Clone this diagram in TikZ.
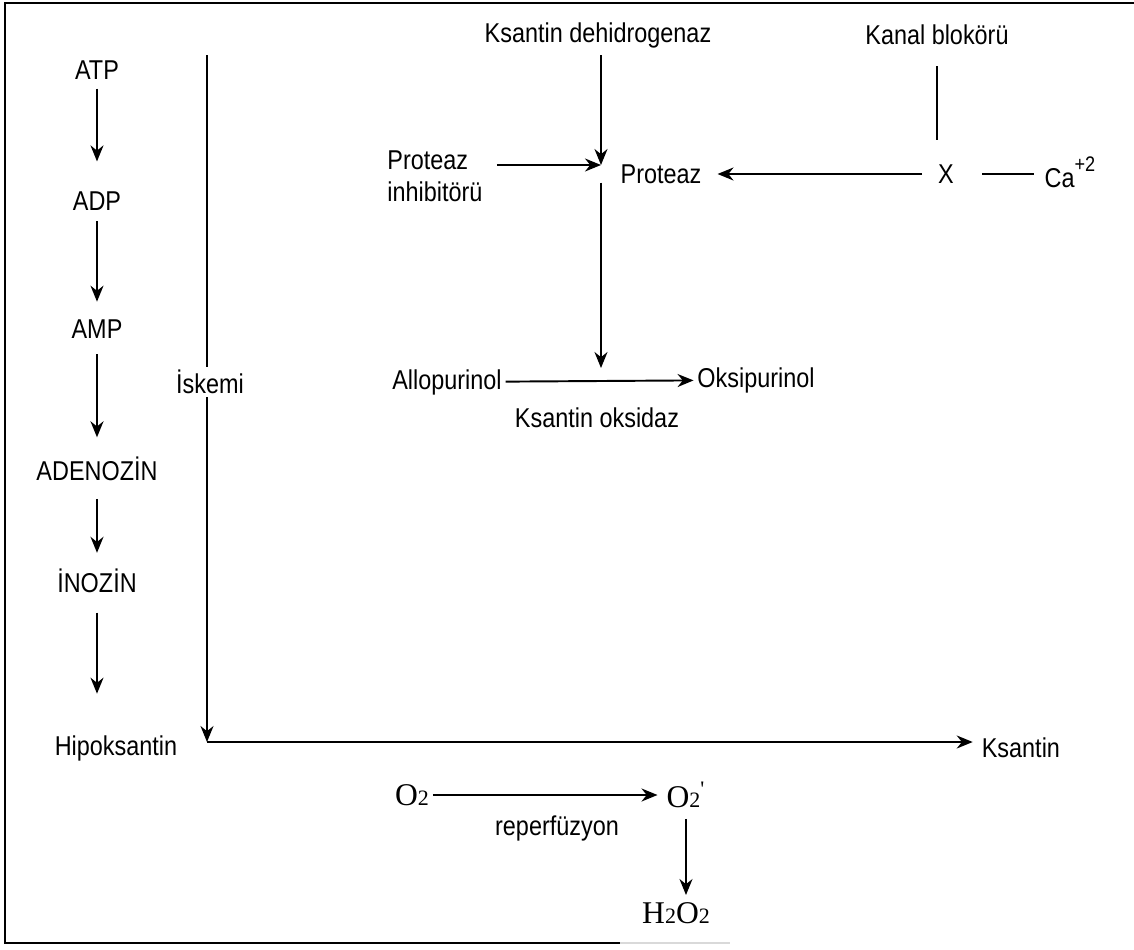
\documentclass[tikz,border=0pt]{standalone}
\usepackage{fontspec}
\setmainfont[FakeStretch=0.86]{Liberation Sans}
\newfontfamily\timesf{Liberation Serif}
\usetikzlibrary{arrows.meta, positioning}
\tikzstyle{txt} = [inner sep=2pt, font=\fontsize{15.5}{18}\selectfont]
\tikzstyle{chem} = [inner sep=2pt, font=\timesf\fontsize{18}{20}\selectfont]
\tikzstyle{flow} = [-{Stealth[length=3.2mm, width=2.6mm]}, line width=1.1pt]
\tikzstyle{plain} = [line width=1.1pt]
\newcommand{\chemsub}[1]{{\fontsize{12.5}{12.5}\selectfont #1}}
\newcommand{\ionsup}[1]{\raisebox{1.1ex}{\fontsize{12}{12}\selectfont #1}}

\begin{document}
\begin{tikzpicture}[x=0.02cm, y=-0.02cm, node distance=0cm]
\useasboundingbox (0,0) rectangle (1134,950);
% frame
\draw[plain] (1134,3) -- (5,3) -- (5,943) -- (620,943);
\draw[plain, black!15] (620,943) -- (730,943);

% nucleotide chain
\node (atp) [txt] at (97,70) {ATP};
\node (adp) [txt, below of=atp, yshift=-2.62cm] {ADP};
\node (amp) [txt, below of=adp, yshift=-2.56cm] {AMP};
\node (adenozin) [txt, below of=amp, yshift=-2.8cm] {ADENOZİN};
\node (inozin) [txt, below of=adenozin, yshift=-2.24cm] {İNOZİN};
\node (hipo) [txt, below of=inozin, xshift=0.38cm, yshift=-3.36cm] {Hipoksantin};
\draw[flow, shorten <=3pt, shorten >=15pt] (atp.south) -- (adp.north);
\draw[flow, shorten <=4pt, shorten >=8pt] (adp.south) -- (amp.north);
\draw[flow, shorten <=7pt, shorten >=9pt] (amp.south) -- (adenozin.north);
\draw[flow, shorten <=8pt, shorten >=7pt] (adenozin.south) -- (inozin.north);
\draw[flow, shorten <=9pt, shorten >=22pt] (inozin.south) -- (inozin.south |- hipo.north);

% iskemi
\coordinate (isktop) at (207,55);
\coordinate (iskbot) at (207,742);
\node (ksantin) [txt, anchor=west] at (978,748) {Ksantin};
\draw[flow] (isktop) -- (iskbot);
\node (iskemi) [txt, fill=white] at (210,382) {İskemi};
\draw[flow, shorten >=3pt] (iskbot) -- (iskbot -| ksantin.west);

% protease part
\node (kdh) [txt] at (598,35) {Ksantin dehidrogenaz};
\node (kanal) [txt] at (937,35) {Kanal blokörü};
\node (protinh) [txt, align=left] at (435,176) {Proteaz\\inhibitörü};
\node (prot) [txt] at (661,174) {Proteaz};
\node (x) [txt] at (946,174) {X};
\node (ca) [txt] at (1070,172) {Ca\ionsup{+2}};
\coordinate (meet) at (601,165);
\coordinate (low) at (601,368);
\draw[flow, shorten <=2pt] (kdh.south -| meet) -- (meet);
\draw[flow, shorten <=6pt] (protinh.east |- meet) -- (meet);
\draw[flow, shorten <=7pt, shorten >=7pt] (x) -- (prot);
\draw[plain, shorten <=10pt, shorten >=12pt] (kanal.south) -- (kanal.south |- x.north);
\draw[plain, shorten <=14pt, shorten >=4pt] (x.east) -- (x.east -| ca.west);
\draw[flow, shorten <=10pt] (meet) -- (low);

% xanthine oxidase
\node (allo) [txt] at (447,382) {Allopurinol};
\node (oksi) [txt] at (756,380) {Oksipurinol};
\node (kox) [txt] at (597,418) {Ksantin oksidaz};
\draw[flow] (allo) -- (oksi);

% reperfusion
\node (o2) [chem] at (412,795) {O\chemsub{2}};
\node (o2r) [chem] at (686,795) {O\chemsub{2}\textsuperscript{'}};
\node (rep) [txt] at (557,828) {reperfüzyon};
\node (h2o2) [chem] at (676,913) {H\chemsub{2}O\chemsub{2}};
\draw[flow, shorten >=3pt] (o2) -- (o2r);
\draw[flow, shorten <=4pt, shorten >=2pt] (o2r.south) -- (o2r.south |- h2o2.north);
\end{tikzpicture}
\end{document}
